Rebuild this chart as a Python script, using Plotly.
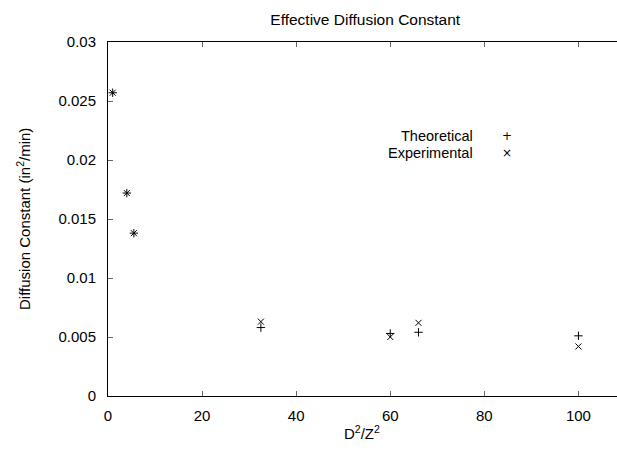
import plotly.graph_objects as go

x_vals = [1, 4, 5.5, 32.5, 60, 66, 100]
theoretical = [0.0257, 0.0172, 0.0138, 0.0058, 0.0053, 0.0054, 0.0051]
experimental = [0.0257, 0.0172, 0.0138, 0.0063, 0.0050, 0.0062, 0.0042]

x_ticks = [0, 20, 40, 60, 80, 100]
y_ticks = [0, 0.005, 0.01, 0.015, 0.02, 0.025, 0.03]
y_tick_text = ["0", "0.005", "0.01", "0.015", "0.02", "0.025", "0.03"]

FONT = "Liberation Sans, Arial, Helvetica, sans-serif"

fig = go.Figure()
fig.add_trace(go.Scatter(
    x=x_vals, y=theoretical, mode="markers", name="Theoretical",
    marker=dict(symbol="cross-thin", size=6, color="black",
                line=dict(color="black", width=1)),
    showlegend=False))
fig.add_trace(go.Scatter(
    x=x_vals, y=experimental, mode="markers", name="Experimental",
    marker=dict(symbol="x-thin", size=6, color="black",
                line=dict(color="black", width=1)),
    showlegend=False))

PX0, PW, PY0, PH = 108.5, 508.5, 396, 354

fig.update_layout(
    template="none",
    width=617, height=451,
    margin=dict(l=108, r=0, t=42, b=55, pad=0),
    paper_bgcolor="white", plot_bgcolor="white",
    font=dict(family=FONT, size=15, color="black"),
    title=dict(text="Effective Diffusion Constant", x=0.592, xanchor="center",
               y=1 - 20 / 451, yanchor="middle",
               font=dict(family=FONT, size=15.5, color="black")),
    xaxis=dict(range=[0, 108.2], tickvals=x_ticks, ticks="inside", ticklen=5,
               tickcolor="#666", showline=True, linecolor="black", linewidth=1,
               mirror="ticks", showgrid=False, zeroline=False,
               ticklabelstandoff=6,
               tickfont=dict(family=FONT, size=15, color="black")),
    yaxis=dict(range=[0, 0.03], tickvals=y_ticks, ticktext=y_tick_text,
               ticks="inside", ticklen=5, tickcolor="#666",
               showline=True, linecolor="black", linewidth=1, mirror=False,
               showgrid=False, zeroline=False, ticklabelstandoff=8,
               tickfont=dict(family=FONT, size=15, color="black")),
    annotations=[
        dict(text="Diffusion Constant (in<sup>2</sup>/min)", xref="paper", yref="paper",
             x=0, y=0.5, xshift=-85, textangle=-90, showarrow=False,
             xanchor="center", yanchor="middle", borderpad=0,
             font=dict(family=FONT, size=15, color="black")),
        dict(text="D<sup>2</sup>/Z<sup>2</sup>", xref="paper", yref="paper",
             x=(362 - PX0) / PW, y=0, yshift=-36, showarrow=False,
             xanchor="center", yanchor="middle", borderpad=0,
             font=dict(family=FONT, size=15, color="black")),
        dict(text="Theoretical", xref="paper", yref="paper",
             x=(474 - PX0) / PW, y=(PY0 - 136) / PH, showarrow=False,
             xanchor="right", yanchor="middle", borderpad=0,
             font=dict(family=FONT, size=14.5, color="black")),
        dict(text="Experimental", xref="paper", yref="paper",
             x=(474 - PX0) / PW, y=(PY0 - 153) / PH, showarrow=False,
             xanchor="right", yanchor="middle", borderpad=0,
             font=dict(family=FONT, size=14.5, color="black")),
        dict(text="+", xref="paper", yref="paper",
             x=(507 - PX0) / PW, y=(PY0 - 136) / PH, showarrow=False,
             xanchor="center", yanchor="middle", borderpad=0,
             font=dict(family="DejaVu Sans, sans-serif", size=12, color="black")),
        dict(text="×", xref="paper", yref="paper",
             x=(507 - PX0) / PW, y=(PY0 - 153) / PH, showarrow=False,
             xanchor="center", yanchor="middle", borderpad=0,
             font=dict(family="DejaVu Sans, sans-serif", size=12, color="black")),
    ],
)

fig.write_html(
    "out.html",
    config={"displayModeBar": False},
    post_script="document.body.style.margin='0';document.body.style.overflow='hidden';",
)
